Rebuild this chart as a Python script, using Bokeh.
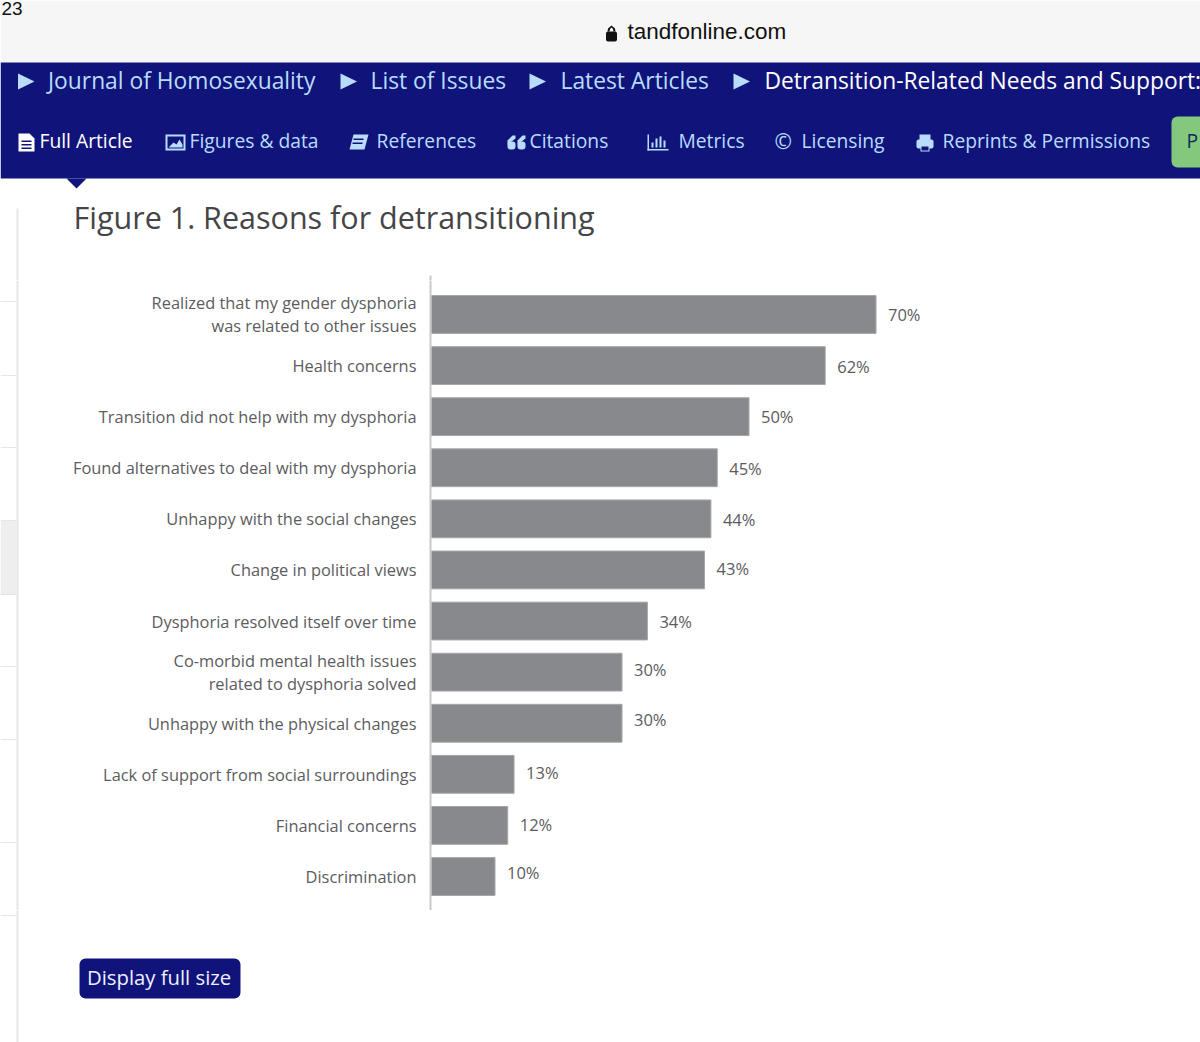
from bokeh.plotting import figure
from bokeh.layouts import column, row
from bokeh.models import FactorRange, Range1d, ColumnDataSource
from bokeh.core.properties import value
from bokeh.embed import file_html
from bokeh.resources import INLINE

categories = [
    "Realized that my gender dysphoria\nwas related to other issues",
    "Health concerns",
    "Transition did not help with my dysphoria",
    "Found alternatives to deal with my dysphoria",
    "Unhappy with the social changes",
    "Change in political views",
    "Dysphoria resolved itself over time",
    "Co-morbid mental health issues\nrelated to dysphoria solved",
    "Unhappy with the physical changes",
    "Lack of support from social surroundings",
    "Financial concerns",
    "Discrimination",
]
percent = [70, 62, 50, 45, 44, 43, 34, 30, 30, 13, 12, 10]
percent_labels = ["70%", "62%", "50%", "45%", "44%", "43%", "34%", "30%", "30%", "13%", "12%", "10%"]

figure_title = "Figure 1. Reasons for detransitioning"
breadcrumbs = ["Journal of Homosexuality", "List of Issues", "Latest Articles", "Detransition-Related Needs and Support:"]
tabs = ["Full Article", "Figures & data", "References", "Citations", "Metrics", "Licensing", "Reprints & Permissions"]

NAVY = "#10147a"
SKY = "#b9dcfb"
GREY = "#88898c"
TEXT = "#5c5c5e"
RAIL = "#e6e6e6"
PX_PER_PCT = 6.35

W = 1200
RAIL_W = 30
CHART_T, CHART_B, PAGE_B = 280, 910, 1042
FRAME_L = 430
BASELINE_SHIFT = 0.4  # of the font size


def page_figure(x0, x1, y0, y1):
    """A figure whose whole canvas is a frame in page pixels (y downward)."""
    f = figure(width=x1 - x0, height=y1 - y0, output_backend="svg", toolbar_location=None,
               x_range=Range1d(x0, x1), y_range=Range1d(y1, y0),
               x_axis_location=None, y_axis_location=None,
               min_border=0, min_border_left=0, min_border_right=0,
               min_border_top=0, min_border_bottom=0)
    f.outline_line_color = None
    f.grid.visible = False
    f.background_fill_color = "white"
    f.border_fill_color = "white"
    return f


def box(f, l, t, r, b, color, radius=0):
    f.quad(left=[l], right=[r], top=[t], bottom=[b], fill_color=color, line_color=None,
           border_radius=radius)


def poly(f, xs, ys, color):
    f.patch(x=list(xs), y=list(ys), fill_color=color, line_color=None)


def text(f, x, y, s, size, color, font="Open Sans"):
    f.text(x=[x - 1], y=[y - BASELINE_SHIFT * size], text=[s], text_font=value(font),
           text_font_size=f"{size}px", text_color=color, text_baseline="alphabetic",
           text_align="left")


# ---------- top of the page ----------
top = page_figure(0, W, 0, CHART_T)
box(top, 0, 0, W, 62, "#f6f6f6")
text(top, 2, 16, "23", 19, "#111111", "Liberation Sans")
box(top, 605.5, 31, 616.5, 41, "#111111", 2)
poly(top, [607, 607.5, 611, 614.5, 615, 613, 612.5, 611, 609.5, 609],
     [31, 28, 25, 28, 31, 31, 28.5, 27, 28.5, 31], "#111111")
text(top, 628, 40, "tandfonline.com", 22.5, "#111111", "Liberation Sans")

box(top, 0, 62, W, 178, NAVY)
poly(top, [66, 86, 76], [178, 178, 188], NAVY)
for tx in (17.5, 340, 529, 733):
    poly(top, [tx, tx + 16.5, tx], [73, 81, 89], SKY)
for tx, s, c in zip((48.5, 371, 561, 765), breadcrumbs, (SKY, SKY, SKY, "#ffffff")):
    text(top, tx, 89, s, 22.8, c)
for tx, s, c in zip((40, 190, 377, 530, 679, 802, 943), tabs,
                    ("#ffffff", SKY, SKY, SKY, SKY, SKY, SKY)):
    text(top, tx, 148, s, 19.25, c)

# tab icons
poly(top, [18, 29, 34, 34, 18], [133, 133, 138, 151, 151], "#ffffff")
for ly in (140, 143.5, 147):
    box(top, 21, ly, 31, ly + 1.5, NAVY)
box(top, 165, 134, 185, 150, SKY)
box(top, 167, 136, 183, 148, NAVY)
poly(top, [168, 173, 176, 179, 182, 182, 168], [147, 142, 144, 139, 144, 147, 147], SKY)
poly(top, [353, 368, 364, 349], [134, 134, 149, 149], SKY)
box(top, 353, 138, 363, 139.5, NAVY)
box(top, 352, 142, 362, 143.5, NAVY)
for qx in (507, 517):
    box(top, qx, 141, qx + 8, 149, SKY, 3)
    poly(top, [qx + 5, qx + 8, qx + 8, qx + 4, qx, qx],
         [135, 135, 138, 141, 144, 140], SKY)
box(top, 647, 134, 648.5, 150, SKY)
box(top, 647, 148.5, 668, 150, SKY)
for bx, bt in ((651, 142), (655, 138), (659, 136), (663, 140)):
    box(top, bx, bt, bx + 2, 147, SKY)
text(top, 775, 149, "©", 21, SKY)
box(top, 916, 139, 933, 148, SKY, 2)
box(top, 919, 134, 930, 140, SKY)
box(top, 920, 145, 929, 151, SKY)
box(top, 921, 146, 928, 150, NAVY)
box(top, 1171, 116, 1210, 167, "#84c87e", 6)
text(top, 1187, 148, "P", 19.25, "#10285a")

text(top, 74, 229, figure_title, 30.5, "#454547")
box(top, 16, 208, 18, CHART_T, RAIL)
box(top, 429, 275, 431, CHART_T, "#c9c9c9")

# ---------- side rail beside the chart ----------
rail = page_figure(0, RAIL_W, CHART_T, CHART_B)
box(rail, 16, CHART_T, 18, CHART_B, RAIL)
box(rail, 0, 520, 16, 594, "#eeeeee")
for ry in (301, 375, 447, 520, 594, 666, 739, 842):
    box(rail, 0, ry - 0.5, 16, ry + 0.5, RAIL)

# ---------- the chart ----------
chart_w = W - RAIL_W
p = figure(
    width=chart_w, height=CHART_B - CHART_T, output_backend="svg", toolbar_location=None,
    x_range=Range1d(-1 / PX_PER_PCT, (W - FRAME_L - 1) / PX_PER_PCT),
    y_range=FactorRange(factors=categories[::-1], range_padding=0.33 / 12),
    min_border_left=FRAME_L - RAIL_W, min_border_right=0,
    min_border_top=0, min_border_bottom=0,
    x_axis_location=None,
)
p.outline_line_color = None
p.grid.visible = False
p.background_fill_color = "white"
p.border_fill_color = "white"

ax = p.yaxis[0]
ax.major_tick_line_color = None
ax.minor_tick_line_color = None
ax.axis_line_color = "#c9c9c9"
ax.axis_line_width = 2
ax.major_label_standoff = 8
ax.major_label_text_font = "Open Sans"
ax.major_label_text_font_size = "16.4px"
ax.major_label_text_color = TEXT
ax.major_label_text_line_height = 1.0

label_nudge = [0, 1, 0, 1, 1, -1, 0, -3, -4, -2, -1, -4]
src = ColumnDataSource(dict(y=categories, v=percent, t=percent_labels, dy=label_nudge))
p.hbar(y="y", left=0, right="v", height=0.74, source=src, fill_color=GREY,
       line_color="#a5a6a8", line_width=1)
p.text(x="v", y="y", text="t", source=src, x_offset=12, y_offset="dy", text_baseline="middle",
       text_font=value("Open Sans"), text_font_size="16.5px", text_color=TEXT)

# ---------- bottom of the page ----------
bottom = page_figure(0, W, CHART_B, PAGE_B)
box(bottom, 16, CHART_B, 18, PAGE_B, RAIL)
box(bottom, 0, 914.5, 16, 915.5, RAIL)
box(bottom, 79, 958, 240, 998, NAVY, 6)
text(bottom, 87.5, 985, "Display full size", 20.3, "#eef0ff")

page = column(top, row(rail, p, spacing=0), bottom, spacing=0)
open("out.html", "w").write(file_html(page, INLINE))
